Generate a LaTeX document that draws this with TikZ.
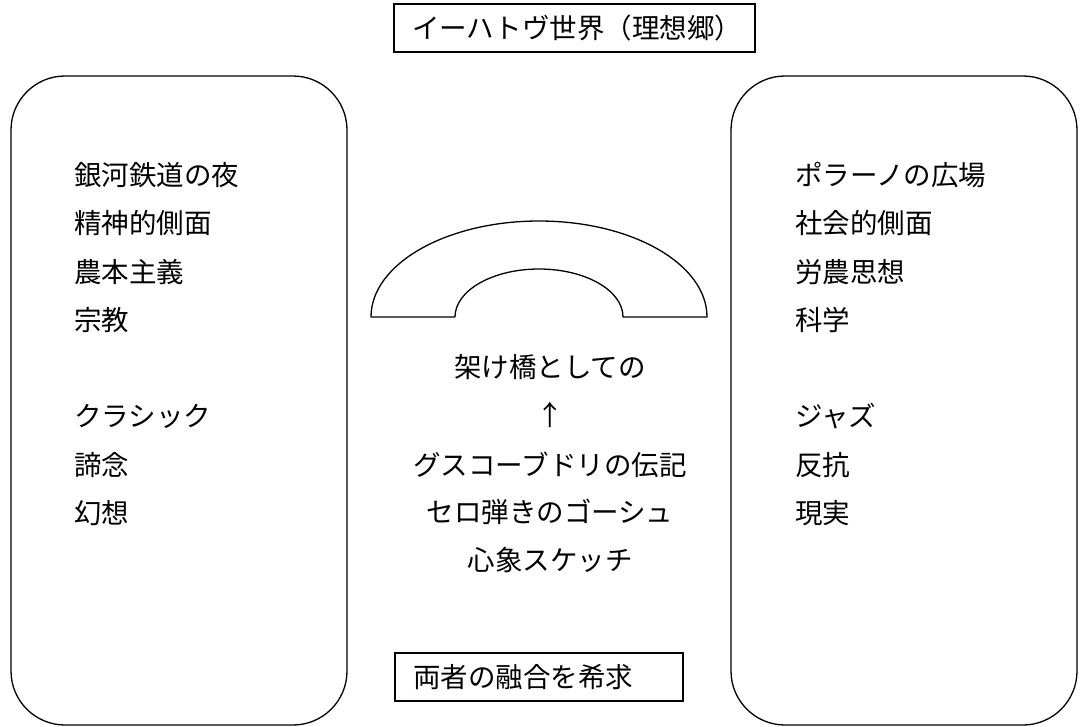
\documentclass[tikz,border=0pt]{standalone}
\usepackage{fontspec}
\setmainfont{Noto Sans CJK JP}
\newfontfamily\jpfont{Noto Sans CJK JP}
\tikzset{
  panel/.style={draw, line width=1.3pt, rounded corners=54pt, inner sep=0pt},
  lbl/.style={anchor=west, inner sep=0pt, font=\jpfont\fontsize{27.5}{33}\selectfont, text height=24.2pt, text depth=3.3pt},
  clbl/.style={lbl, anchor=center},
  tbox/.style={draw, line width=1.3pt, inner xsep=18pt, inner ysep=0pt, minimum height=48pt, align=left, font=\jpfont\fontsize{27.5}{33}\selectfont, text height=24.2pt, text depth=3.3pt},
  arch/.style={draw, line width=1.3pt, line join=round}
}
\begin{document}
\begin{tikzpicture}[x=1pt,y=-1pt]
\useasboundingbox (0,0) rectangle (1086,726);
% panels
\node[panel, minimum width=336pt, minimum height=649pt] (leftpanel) at (179,400.5) {};
\node[panel, minimum width=346pt, minimum height=649pt] (rightpanel) at (904,400.5) {};
% title and bottom boxes
\node[tbox, text width=325pt] (title) at (574.5,28) {イーハトヴ世界（理想郷）};
\node[tbox, text width=252pt] (fusion) at (539,677) {両者の融合を希求};
% bridge arch
\draw[arch] (371,317) arc[start angle=180, end angle=0, x radius=168pt, y radius=96pt]
  -- (623,317) arc[start angle=0, end angle=180, x radius=84pt, y radius=48pt] -- cycle;
% left column
\node[lbl] (l1) at (74,175) {銀河鉄道の夜};
\node[lbl] (l2) at (74,223) {精神的側面};
\node[lbl] (l3) at (74,272) {農本主義};
\node[lbl] (l4) at (74,320) {宗教};
\node[lbl] (l5) at (74,416) {クラシック};
\node[lbl] (l6) at (74,465) {諦念};
\node[lbl] (l7) at (74,513) {幻想};
% right column
\node[lbl] (r1) at (795,175) {ポラーノの広場};
\node[lbl] (r2) at (795,223) {社会的側面};
\node[lbl] (r3) at (795,272) {労農思想};
\node[lbl] (r4) at (795,320) {科学};
\node[lbl] (r5) at (795,416) {ジャズ};
\node[lbl] (r6) at (795,465) {反抗};
\node[lbl] (r7) at (795,513) {現実};
% centre column
\node[clbl] (c1) at (550,367) {架け橋としての};
\node[clbl] (c2) at (550,415) {↑};
\node[clbl] (c3) at (550,465) {グスコーブドリの伝記};
\node[clbl] (c4) at (550,512) {セロ弾きのゴーシュ};
\node[clbl] (c5) at (550,560) {心象スケッチ};
\end{tikzpicture}
\end{document}
